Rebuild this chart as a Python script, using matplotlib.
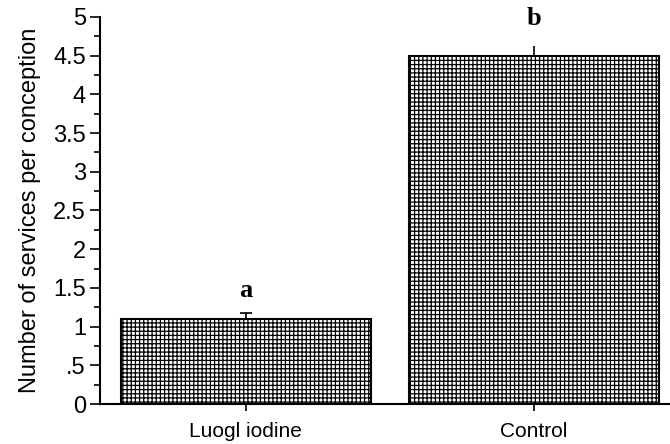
import matplotlib
matplotlib.use('Agg')
import matplotlib.pyplot as plt
from matplotlib.ticker import MultipleLocator

groups = ['Luogl iodine', 'Control']
means = [1.1, 4.5]
errors = [0.08, 0.13]
letters = ['a', 'b']
letter_y = [1.47, 4.98]
yticks = [0, 0.5, 1, 1.5, 2, 2.5, 3, 3.5, 4, 4.5, 5]
ytick_labels = ['0', '.5', '1', '1.5', '2', '2.5', '3', '3.5', '4', '4.5', '5']

plt.rcParams['font.family'] = ['Liberation Sans', 'DejaVu Sans']
plt.rcParams['hatch.color'] = '#777777'
plt.rcParams['hatch.linewidth'] = 0.9

fig = plt.figure(figsize=(6.7, 4.44), dpi=100)
ax = fig.add_axes([0.149, 0.090, 0.851, 0.872])

x = list(range(len(groups)))
ax.bar(x, means, width=0.87, color='white', edgecolor='black',
       linewidth=1.5, hatch='++++', zorder=2)
ax.errorbar(x[0], means[0], yerr=[[0], [errors[0]]], fmt='none',
            ecolor='black', elinewidth=1.2, capsize=4, capthick=1.2, zorder=1)
ax.errorbar(x[1], means[1], yerr=[[0], [errors[1]]], fmt='none',
            ecolor='black', elinewidth=1.2, capsize=0, zorder=1)

for xi, lab, yl in zip(x, letters, letter_y):
    ax.text(xi, yl, lab, ha='center', va='center', fontsize=19,
            fontweight='bold', family=['Liberation Serif', 'DejaVu Serif'])

ax.set_xlim(-0.507, 1.472)
ax.set_ylim(0, 5)
ax.set_xticks(x)
ax.set_xticklabels(groups, fontsize=15)
ax.set_yticks(yticks)
ax.set_yticklabels(ytick_labels, fontsize=17)
ax.yaxis.set_minor_locator(MultipleLocator(0.25))
ax.tick_params(axis='y', which='major', length=7, width=1.2, pad=3)
ax.tick_params(axis='y', which='minor', length=4, width=1.2)
ax.tick_params(axis='x', length=5, width=1.2, pad=8)
ax.set_ylabel('Number of services per conception', fontsize=17, labelpad=9)

for s in ['top', 'right']:
    ax.spines[s].set_visible(False)
for s in ['left', 'bottom']:
    ax.spines[s].set_linewidth(1.5)

fig.savefig('out.png', dpi=100)
